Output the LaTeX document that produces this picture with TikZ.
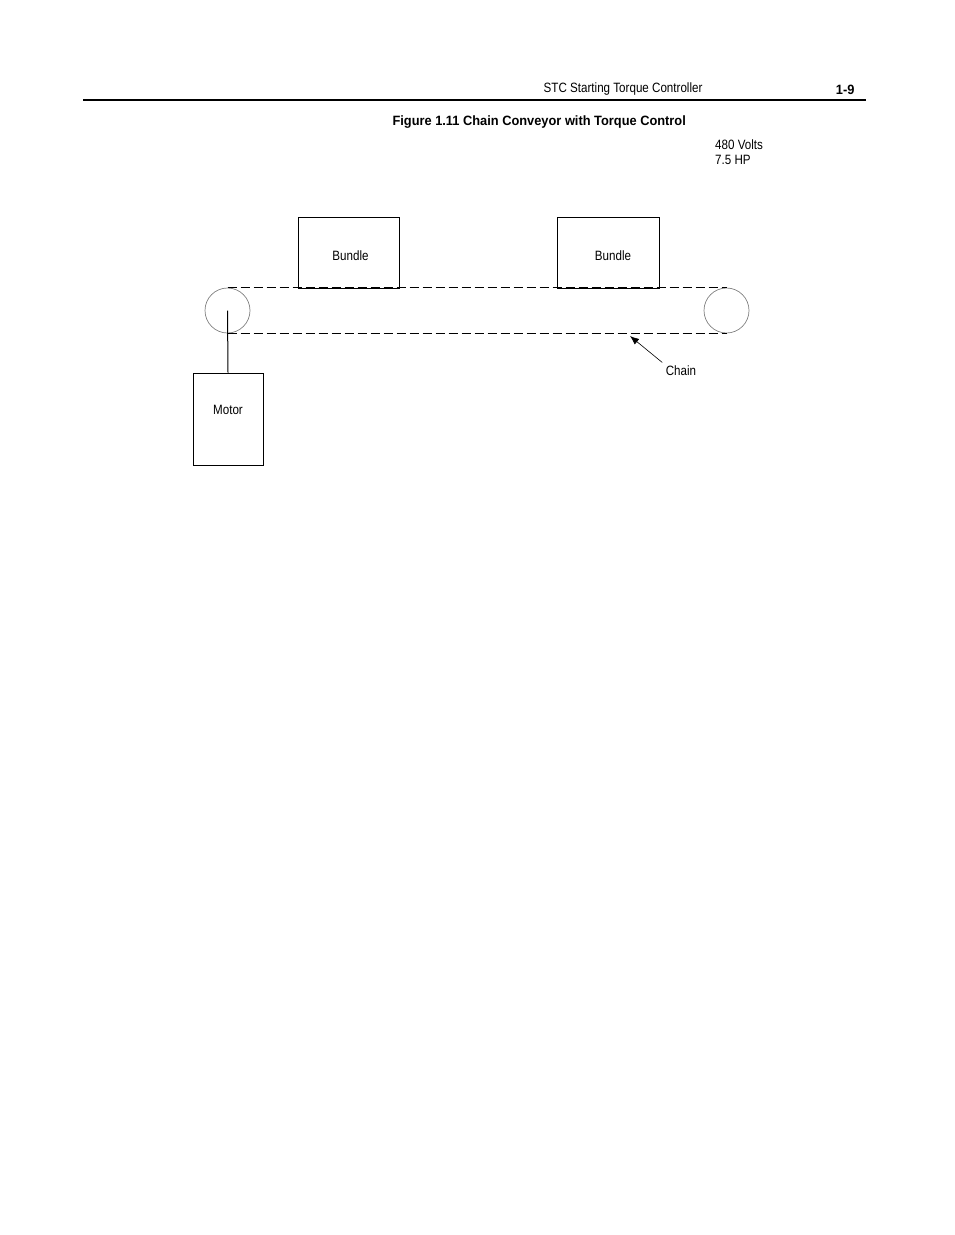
\documentclass[tikz,border=0pt]{standalone}
\usepackage{fontspec}
\setmainfont{Liberation Sans}[FakeStretch=0.86, BoldFeatures={FakeStretch=0.95}]
\usetikzlibrary{arrows.meta}
\begin{document}
\begin{tikzpicture}[x=1pt, y=-1pt, font=\fontsize{13.5}{15}\selectfont]
        \useasboundingbox (0, 0) rectangle (954, 1235);
        \node[anchor=east] (hdr) at (706, 89.5) {STC Starting Torque Controller};
        \node[anchor=east, font=\fontsize{13.5}{15}\selectfont\bfseries] (pg) at (858, 89.5) {1-9};
        \coordinate (rl) at (83, 100);
        \coordinate (rr) at (866, 100);
        \draw[line width=1.8pt] (rl) -- (rr);
        \node[anchor=west, font=\fontsize{13.5}{15}\selectfont\bfseries] (title) at (389, 122.5) {Figure 1.11 Chain Conveyor with Torque Control};
        \node[anchor=north west, align=left, inner sep=0pt] (rating) at (715, 139.5) {480 Volts\\7.5 HP};
        \node[draw, line width=1pt, minimum width=101pt, minimum height=71pt, label={[xshift=2pt, yshift=-3pt]center:Bundle}] (b1) at (348.5, 252.5) {};
        \node[draw, line width=1pt, minimum width=102pt, minimum height=71pt, label={[xshift=5pt, yshift=-3pt]center:Bundle}] (b2) at (608, 252.5) {};
        \node[circle, draw, gray, line width=0.7pt, minimum size=45pt, inner sep=0pt] (lp) at (227.5, 310.5) {};
        \node[circle, draw, gray, line width=0.7pt, minimum size=45pt, inner sep=0pt] (rp) at (726.5, 310.5) {};
        \node[draw, line width=1pt, minimum width=70pt, minimum height=92pt, label={[yshift=9pt]center:Motor}] (motor) at (228, 419) {};
        \draw[dash pattern=on 9pt off 4pt, line width=1pt] (lp.north) -- (rp.north);
        \draw[dash pattern=on 9pt off 4pt, line width=1pt] (lp.south) -- (rp.south);
        \draw[line width=1pt] (lp.center) -- (motor.north);
        \coordinate (ch) at (630, 336);
        \node (chain) at (681, 371) {Chain};
        \draw[-{Latex[length=9pt, width=7pt]}, line width=0.6pt] (chain.north west) -- (ch);
    \end{tikzpicture}
\end{document}
